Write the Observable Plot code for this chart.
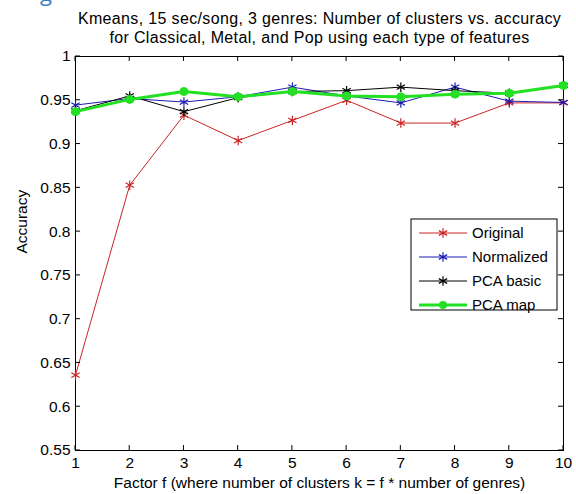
<!DOCTYPE html>
<html>
<head>
<meta charset="utf-8">
<script src="https://cdn.jsdelivr.net/npm/d3@7"></script>
<script src="https://cdn.jsdelivr.net/npm/@observablehq/plot@0.6"></script>
<style>
  html, body { margin: 0; padding: 0; background: #fff; }
  #wrap { position: relative; width: 576px; height: 494px; overflow: hidden; }
  #cut { position: absolute; left: 40px; top: -23px; font: 22px "Open Sans", sans-serif; color: #3d7fc6; }
  svg { display: block; }
</style>
</head>
<body>
<div id="wrap"><div id="cut">g</div><div id="chart"></div></div>
<script>
const factors = [1, 2, 3, 4, 5, 6, 7, 8, 9, 10];
const original   = [0.636, 0.853, 0.933, 0.904, 0.927, 0.950, 0.924, 0.924, 0.947, 0.947];
const normalized = [0.9445, 0.952, 0.948, 0.954, 0.965, 0.955, 0.947, 0.965, 0.949, 0.9475];
const pcaBasic   = [0.938, 0.955, 0.937, 0.953, 0.960, 0.961, 0.965, 0.961, 0.958, 0.967];
const pcaMap     = [0.937, 0.951, 0.960, 0.954, 0.960, 0.955, 0.954, 0.957, 0.958, 0.967];
const seriesNames = ["Original", "Normalized", "PCA basic", "PCA map"];
const seriesColors = ["#cc2424", "#1c1cb4", "#000000", "#22e022"];
const yTicks = [0.55, 0.6, 0.65, 0.7, 0.75, 0.8, 0.85, 0.9, 0.95, 1];
const titleLines = [
  "Kmeans, 15 sec/song, 3 genres: Number of clusters vs. accuracy",
  "for Classical, Metal, and Pop using each type of features"
];
const xLabel = "Factor f (where number of clusters k = f * number of genres)";
const yLabel = "Accuracy";

const seriesValues = [original, normalized, pcaBasic, pcaMap];
const rows = [];
seriesValues.forEach((vals, i) => vals.forEach((v, j) => rows.push({series: seriesNames[i], f: factors[j], acc: v})));
const of = name => rows.filter(d => d.series === name);

const font = '"Liberation Sans", Arial, sans-serif';
const fmt = d => String(+d.toFixed(2));

const plot = Plot.plot({
  width: 576,
  height: 494,
  marginLeft: 75,
  marginRight: 13,
  marginTop: 56,
  marginBottom: 44,
  style: {fontFamily: font, fontSize: "15.5px", color: "#000", background: "#fff"},
  x: {domain: [1, 10], ticks: factors, tickFormat: d => String(d)},
  y: {domain: [0.55, 1], ticks: yTicks, tickFormat: fmt},
  marks: [
    Plot.axisX({anchor: "bottom", ticks: factors, tickSize: 0, tickPadding: 6, lineAnchor: "top", label: null, tickFormat: d => String(d), fontSize: 15.5}),
    Plot.axisY({anchor: "left", ticks: yTicks, tickSize: 0, tickPadding: 5, label: null, tickFormat: fmt, fontSize: 15.5}),
    Plot.text([xLabel], {frameAnchor: "bottom", dy: 33, lineAnchor: "middle", fontSize: 15.5, fill: "#000"}),
    Plot.text([yLabel], {frameAnchor: "left", dx: -53, rotate: -90, lineAnchor: "middle", fontSize: 15.5, fill: "#000"}),
    Plot.text([titleLines[0]], {frameAnchor: "top", dy: -38, lineAnchor: "middle", fontSize: 16, fill: "#000", className: "ttl"}),
    Plot.text([titleLines[1]], {frameAnchor: "top", dy: -19, lineAnchor: "middle", fontSize: 16, fill: "#000", className: "ttl"}),
    Plot.frame({stroke: "#000", strokeWidth: 1}),
    Plot.line(of("Original"), {x: "f", y: "acc", stroke: seriesColors[0], strokeWidth: 1}),
    Plot.dot(of("Original"), {x: "f", y: "acc", symbol: "asterisk", r: 4.5, stroke: seriesColors[0], strokeWidth: 1.2}),
    Plot.line(of("Normalized"), {x: "f", y: "acc", stroke: seriesColors[1], strokeWidth: 1}),
    Plot.dot(of("Normalized"), {x: "f", y: "acc", symbol: "asterisk", r: 4.5, stroke: seriesColors[1], strokeWidth: 1.2}),
    Plot.line(of("PCA basic"), {x: "f", y: "acc", stroke: seriesColors[2], strokeWidth: 1}),
    Plot.dot(of("PCA basic"), {x: "f", y: "acc", symbol: "asterisk", r: 4.5, stroke: seriesColors[2], strokeWidth: 1.2}),
    Plot.line(of("PCA map"), {x: "f", y: "acc", stroke: seriesColors[3], strokeWidth: 3}),
    Plot.dot(of("PCA map"), {x: "f", y: "acc", r: 4, fill: seriesColors[3], stroke: seriesColors[3], strokeWidth: 1})
  ]
});

document.getElementById("chart").appendChild(plot);
d3.select(plot).selectAll("g.ttl text").attr("letter-spacing", "0.35px");

// inward ticks on all four sides, positioned through the plot's scales
const sx = plot.scale("x"), sy = plot.scale("y");
const svg = d3.select(plot);
const x0 = sx.apply(1), x1 = sx.apply(10), y0 = sy.apply(0.55), y1 = sy.apply(1);
const tk = 5;
const g = svg.append("g").attr("stroke", "#000").attr("stroke-width", 1);
factors.forEach(f => {
  const px = sx.apply(f);
  g.append("line").attr("x1", px).attr("x2", px).attr("y1", y0).attr("y2", y0 - tk);
  g.append("line").attr("x1", px).attr("x2", px).attr("y1", y1).attr("y2", y1 + tk);
});
yTicks.forEach(v => {
  const py = sy.apply(v);
  g.append("line").attr("x1", x0).attr("x2", x0 + tk).attr("y1", py).attr("y2", py);
  g.append("line").attr("x1", x1).attr("x2", x1 - tk).attr("y1", py).attr("y2", py);
});

// legend box (MATLAB style, east side)
const lgW = 146, lgH = 91, lgX = x1 - 6 - lgW, lgY = 219;
const lg = svg.append("g").attr("font-family", font).attr("font-size", 15).attr("text-anchor", "start");
lg.append("rect").attr("x", lgX).attr("y", lgY).attr("width", lgW).attr("height", lgH)
  .attr("fill", "#fff").attr("stroke", "#000").attr("stroke-width", 1);
const sym = d3.symbol(d3.symbolAsterisk, Math.PI * 4.5 * 4.5);
seriesNames.forEach((name, i) => {
  const cy = lgY + 14 + i * 24;
  const c = seriesColors[i];
  lg.append("line").attr("x1", lgX + 8).attr("x2", lgX + 56).attr("y1", cy).attr("y2", cy)
    .attr("stroke", c).attr("stroke-width", i === 3 ? 3 : 1);
  if (i === 3) {
    lg.append("circle").attr("cx", lgX + 32).attr("cy", cy).attr("r", 4).attr("fill", c);
  } else {
    lg.append("path").attr("d", sym()).attr("transform", `translate(${lgX + 32},${cy})`)
      .attr("stroke", c).attr("stroke-width", 1.2).attr("fill", "none");
  }
  lg.append("text").attr("x", lgX + 61).attr("y", cy).attr("dy", "0.35em").attr("fill", "#000").text(name);
});
</script>
</body>
</html>
